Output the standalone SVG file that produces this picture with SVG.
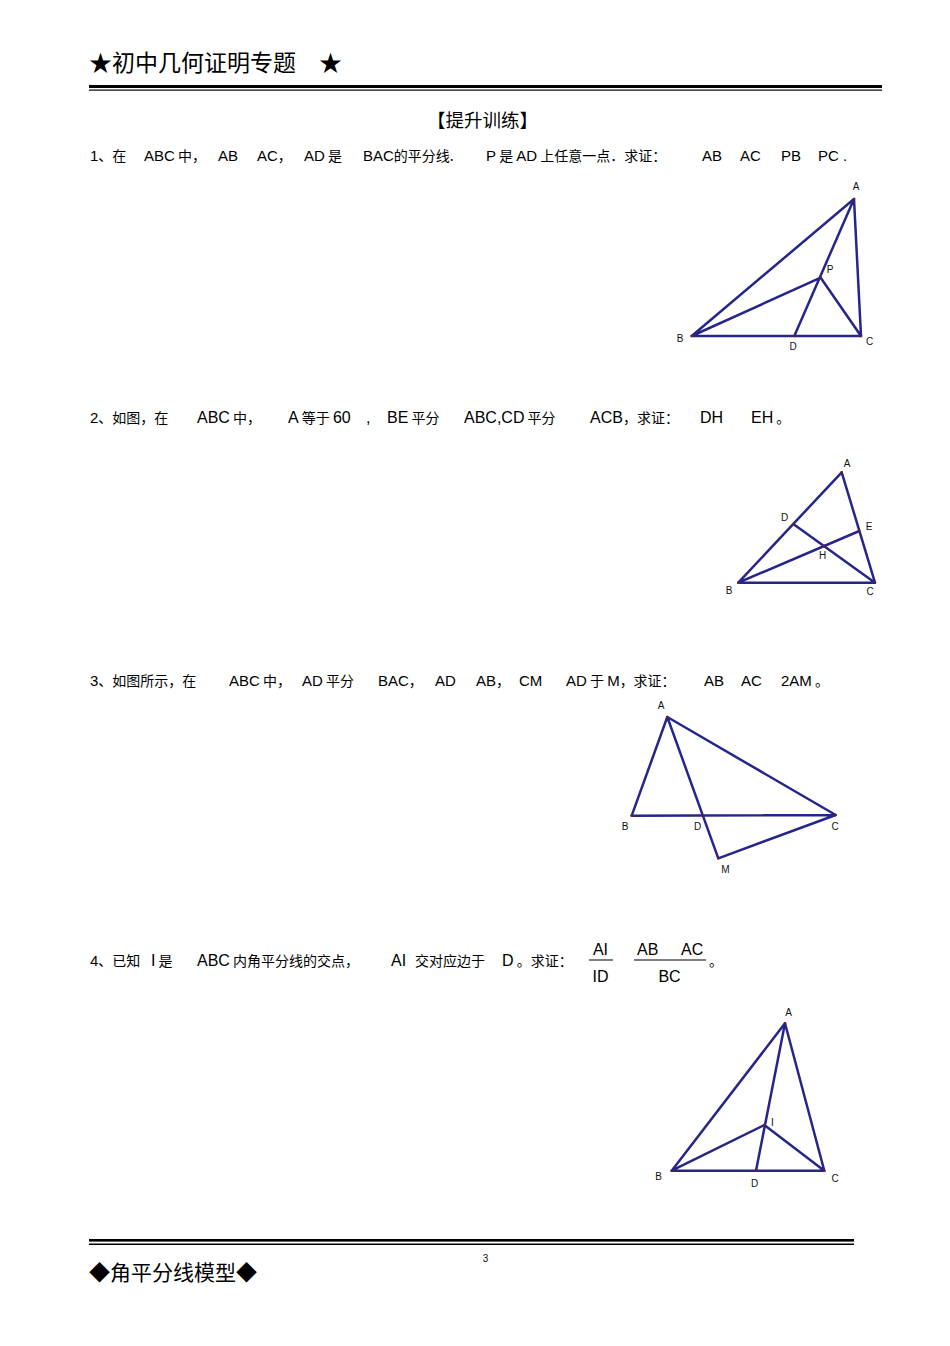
<svg xmlns="http://www.w3.org/2000/svg" width="950" height="1346" viewBox="0 0 950 1346">
<style>
.t{font-family:"Liberation Sans","Noto Sans CJK SC",sans-serif;fill:#000}
.c{font-family:"Noto Sans CJK SC","Liberation Sans",sans-serif;fill:#000}
.l1{font-size:15px}
.cz{font-size:14px}
.l2{font-size:16px}
.lb{font-family:"Liberation Sans",sans-serif;font-size:10px;fill:#111}
.fig{fill:none;stroke:#25258a;stroke-width:2.5;stroke-linejoin:round;stroke-linecap:round}
.pt{fill:#7a1a1a}
</style>
<rect width="950" height="1346" fill="#fff"/>
<g id="header">
<text x="89" y="71" class="c" font-size="23">★初中几何证明专题</text>
<text x="319" y="71" class="c" font-size="23">★</text>
<rect x="89" y="85" width="793" height="3" fill="#000"/>
<rect x="89" y="89.5" width="793" height="1.2" fill="#000"/>
</g>
<text x="427" y="127" class="c" font-size="18.5">【提升训练】</text>
<g id="q1">
<text y="161" class="l1"><tspan x="90" class="t">1</tspan><tspan class="c cz">、在</tspan></text>
<text x="144" y="161" class="t l1">ABC<tspan class="c cz"> 中，</tspan></text>
<text x="218" y="161" class="t l1">AB</text>
<text x="257" y="161" class="t l1">AC<tspan class="c cz">，</tspan></text>
<text x="304" y="161" class="t l1">AD<tspan class="c cz"> 是</tspan></text>
<text x="363" y="161" class="t l1">BAC<tspan class="c cz">的平分线.</tspan></text>
<text x="486" y="161" class="t l1">P<tspan class="c cz"> 是 </tspan>AD<tspan class="c cz"> 上任意一点．求证：</tspan></text>
<text x="702" y="161" class="t l1">AB</text>
<text x="740" y="161" class="t l1">AC</text>
<text x="781" y="161" class="t l1">PB</text>
<text x="818" y="161" class="t l1">PC .</text>
</g>
<g id="fig1">
<path class="fig" d="M854,199 L691.7,336 L861,336 Z M854,199 L794.3,336 M691.7,336 L820.7,277.7 L861,336"/>
<g class="pt"><circle cx="854" cy="199" r="1.3"/><circle cx="691.7" cy="336" r="1.3"/><circle cx="861" cy="336" r="1.3"/><circle cx="794.3" cy="336" r="1.3"/><circle cx="820.7" cy="277.7" r="1.3"/></g>
<text x="856" y="190" class="lb" text-anchor="middle">A</text>
<text x="680" y="342" class="lb" text-anchor="middle">B</text>
<text x="793" y="350" class="lb" text-anchor="middle">D</text>
<text x="869.5" y="345" class="lb" text-anchor="middle">C</text>
<text x="830" y="273" class="lb" text-anchor="middle">P</text>
</g>
<g id="q2">
<text y="423" class="l1"><tspan x="90" class="t">2</tspan><tspan class="c cz">、如图，在</tspan></text>
<text x="197" y="423" class="t l2">ABC<tspan class="c cz"> 中，</tspan></text>
<text x="288" y="423" class="t l2">A<tspan class="c cz"> 等于 </tspan>60</text>
<text x="366" y="423" class="t l2">,</text>
<text x="387" y="423" class="t l2">BE<tspan class="c cz"> 平分</tspan></text>
<text x="464" y="423" class="t l2">ABC,CD<tspan class="c cz">  平分</tspan></text>
<text x="590" y="423" class="t l2">ACB<tspan class="c cz">，求证：</tspan></text>
<text x="700" y="423" class="t l2">DH</text>
<text x="751" y="423" class="t l2">EH<tspan class="c cz"> 。</tspan></text>
</g>
<g id="fig2">
<path class="fig" d="M841.7,472.3 L738.3,582.7 L875,582.7 Z M738.3,582.7 L859.3,531 M793.3,524 L875,582.7"/>
<g class="pt"><circle cx="841.7" cy="472.3" r="1.2"/><circle cx="738.3" cy="582.7" r="1.2"/><circle cx="875" cy="582.7" r="1.2"/><circle cx="793.3" cy="524" r="1.2"/><circle cx="859.3" cy="531" r="1.2"/><circle cx="824.3" cy="545.7" r="1.2"/></g>
<text x="847" y="467" class="lb" text-anchor="middle" font-size="9">A</text>
<text x="784.5" y="521" class="lb" text-anchor="middle" font-size="9">D</text>
<text x="869" y="530" class="lb" text-anchor="middle" font-size="9">E</text>
<text x="822.5" y="559" class="lb" text-anchor="middle" font-size="9">H</text>
<text x="729" y="594" class="lb" text-anchor="middle" font-size="9">B</text>
<text x="870" y="595" class="lb" text-anchor="middle" font-size="9">C</text>
</g>
<g id="q3">
<text y="686" class="l1"><tspan x="90" class="t">3</tspan><tspan class="c cz">、如图所示，在</tspan></text>
<text x="229" y="686" class="t l1">ABC<tspan class="c cz"> 中，</tspan></text>
<text x="302" y="686" class="t l1">AD<tspan class="c cz"> 平分</tspan></text>
<text x="378" y="686" class="t l1">BAC<tspan class="c cz">，</tspan></text>
<text x="435" y="686" class="t l1">AD</text>
<text x="476" y="686" class="t l1">AB<tspan class="c cz">，</tspan></text>
<text x="519" y="686" class="t l1">CM</text>
<text x="566" y="686" class="t l1">AD<tspan class="c cz"> 于 </tspan>M<tspan class="c cz">，求证：</tspan></text>
<text x="704" y="686" class="t l1">AB</text>
<text x="741" y="686" class="t l1">AC</text>
<text x="781" y="686" class="t l1">2AM<tspan class="c cz"> 。</tspan></text>
</g>
<g id="fig3">
<path class="fig" d="M667.3,717 L631.7,815.7 L835.7,815 Z M667.3,717 L718.3,858.3 L835.7,815"/>
<g class="pt"><circle cx="667.3" cy="717" r="1.3"/><circle cx="631.7" cy="815.7" r="1.3"/><circle cx="835.7" cy="815" r="1.3"/><circle cx="702.7" cy="815.7" r="1.3"/><circle cx="718.3" cy="858.3" r="1.3"/></g>
<text x="661" y="709" class="lb" text-anchor="middle">A</text>
<text x="625" y="830" class="lb" text-anchor="middle">B</text>
<text x="697.5" y="830" class="lb" text-anchor="middle">D</text>
<text x="835" y="830" class="lb" text-anchor="middle">C</text>
<text x="725.5" y="873" class="lb" text-anchor="middle">M</text>
</g>
<g id="q4">
<text y="966" class="l1"><tspan x="90" class="t">4</tspan><tspan class="c cz">、已知</tspan></text>
<text x="151" y="966" class="t l2">I<tspan class="c cz"> 是</tspan></text>
<text x="197" y="966" class="t l2">ABC<tspan class="c cz"> 内角平分线的交点，</tspan></text>
<text x="391" y="966" class="t l2">AI</text>
<text x="415" y="966" class="c cz">交对应边于</text>
<text x="502" y="966" class="t l2">D<tspan class="c cz"> 。求证：</tspan></text>
<text x="600.5" y="955" class="t l2" text-anchor="middle">AI</text>
<rect x="589" y="959.5" width="24" height="1" fill="#000"/>
<text x="600.5" y="982" class="t l2" text-anchor="middle">ID</text>
<text x="637" y="955" class="t l2">AB</text>
<text x="681" y="955" class="t l2">AC</text>
<rect x="634" y="959.5" width="72" height="1" fill="#000"/>
<text x="669.5" y="982" class="t l2" text-anchor="middle">BC</text>
<text x="709" y="966" class="c cz">。</text>
</g>
<g id="fig4">
<path class="fig" d="M785,1023.3 L671.7,1170.7 L824.3,1170.7 Z M785,1023.3 L756,1170.7 M671.7,1170.7 L764.3,1125 L824.3,1170.7"/>
<g class="pt"><circle cx="785" cy="1023.3" r="1.3"/><circle cx="671.7" cy="1170.7" r="1.3"/><circle cx="824.3" cy="1170.7" r="1.3"/><circle cx="756" cy="1170.7" r="1.3"/><circle cx="764.3" cy="1125" r="1.3"/></g>
<text x="788.5" y="1016" class="lb" text-anchor="middle">A</text>
<text x="772.5" y="1126" class="lb" text-anchor="middle">I</text>
<text x="658.5" y="1180" class="lb" text-anchor="middle">B</text>
<text x="754.5" y="1187" class="lb" text-anchor="middle">D</text>
<text x="835" y="1182" class="lb" text-anchor="middle">C</text>
</g>
<g id="footer">
<rect x="89" y="1239" width="765" height="2.6" fill="#000"/>
<rect x="89" y="1243.5" width="765" height="1.5" fill="#000"/>
<text x="485.5" y="1262" class="lb" text-anchor="middle" font-size="11">3</text>
<text x="89" y="1280" class="c" font-size="21">◆角平分线模型◆</text>
</g>
</svg>
